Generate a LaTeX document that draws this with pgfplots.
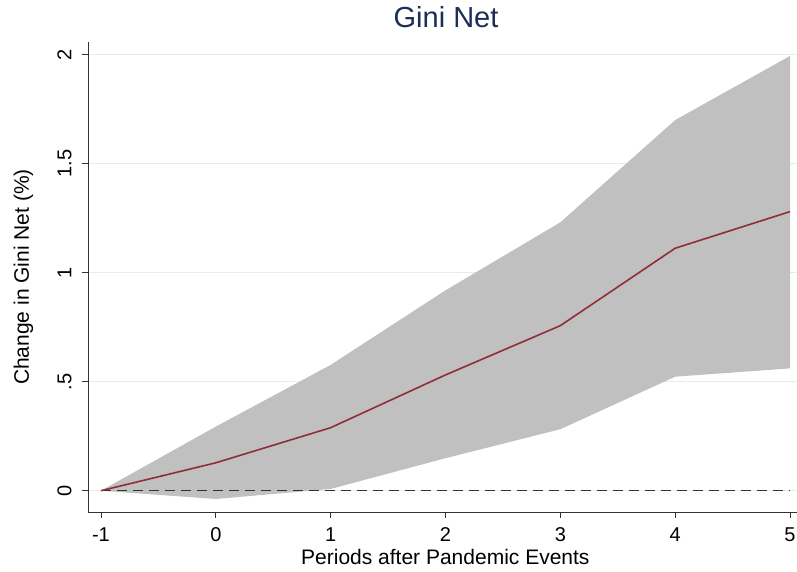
\documentclass[border=0pt]{standalone}
\usepackage{pgfplots}
\pgfplotsset{compat=1.18}
\usepackage{fontspec}
\setmainfont{Liberation Sans}

\definecolor{titlenavy}{RGB}{30,45,88}
\definecolor{bandgray}{RGB}{192,192,192}
\definecolor{linemaroon}{RGB}{144,45,55}
\definecolor{gridgray}{RGB}{228,236,239}

\begin{document}
\begin{tikzpicture}
\useasboundingbox (-88pt,-59pt) rectangle (709pt,512pt);
\begin{axis}[
  at={(0pt,0pt)}, anchor=south west,
  scale only axis,
  width=709pt, height=470pt,
  xmin=-1.113, xmax=5.061,
  ymin=-0.0977, ymax=2.058,
  axis x line*=bottom, axis y line*=left,
  axis line style={line width=0.9pt, color=black!80},
  xtick={-1,0,1,2,3,4,5},
  ytick={0,0.5,1,1.5,2},
  yticklabels={0,.5,1,1.5,2},
  tick align=outside,
  major tick length=6pt,
  tick style={line width=0.9pt, color=black!80},
  ymajorgrids,
  grid style={line width=1pt, color=gridgray},
  /pgf/number format/assume math mode=true,
  tick label style={font=\fontsize{20}{24}\selectfont},
  xticklabel style={anchor=north},
  xticklabel shift=6pt,
  yticklabel style={rotate=90, anchor=south},
  yticklabel shift=7pt,
  xlabel={Periods after Pandemic Events},
  ylabel={Change in Gini Net (\%)},
  label style={font=\fontsize{21}{25}\selectfont},
  xlabel style={at={(axis description cs:0.504,0)}, anchor=base, yshift=-52pt},
  ylabel style={at={(axis description cs:0,0.5)}, anchor=base, yshift=59pt},
  title={Gini Net},
  title style={at={(axis description cs:0.505,1)}, anchor=base, yshift=8pt,
    font=\fontsize{29}{33}\selectfont, color=titlenavy},
]
% confidence band: upper bound forward, lower bound back
\addplot[fill=bandgray, draw=none] coordinates {
  (-1,0) (0,0.294) (1,0.577) (2,0.919) (3,1.231) (4,1.700) (5,1.994)
  (5,0.561) (4,0.523) (3,0.282) (2,0.149) (1,0.008) (0,-0.038) (-1,0)
} -- cycle;
% zero reference line
\addplot[black!80, line width=1pt, dash pattern=on 10pt off 6pt] coordinates {(-1,0) (5,0)};
% point estimates
\addplot[linemaroon, line width=1.6pt] coordinates {
  (-1,0) (0,0.128) (1,0.289) (2,0.531) (3,0.757) (4,1.112) (5,1.280)
};
\end{axis}
\end{tikzpicture}
\end{document}
